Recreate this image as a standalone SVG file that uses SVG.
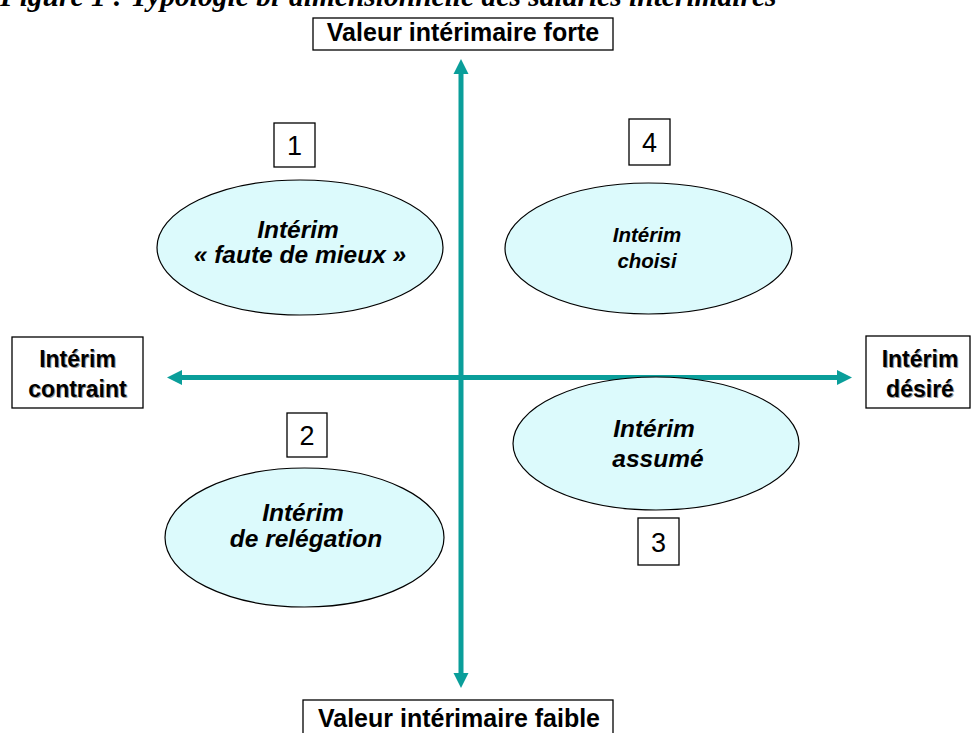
<svg xmlns="http://www.w3.org/2000/svg" width="971" height="733" viewBox="0 0 971 733">
<defs>
<style>
.box{fill:#ffffff;stroke:#000000;stroke-width:1.3}
.ell{fill:#dcfafc;stroke:#000000;stroke-width:1.2}
.ax{stroke:#0a9e9a;stroke-width:5;fill:none}
.head{fill:#0a9e9a}
.bl{font-family:"Liberation Sans",Arial,sans-serif;font-weight:bold;font-size:24px;fill:#000;text-anchor:middle}
.sh{font-family:"Liberation Sans",Arial,sans-serif;font-weight:bold;font-size:23px;fill:#9a9a9a;text-anchor:middle}
.it{font-family:"Liberation Sans",Arial,sans-serif;font-weight:bold;font-style:italic;font-size:24.5px;fill:#000;text-anchor:middle}
.num{font-family:"Liberation Sans",Arial,sans-serif;font-size:27px;fill:#000;text-anchor:middle}
.title{font-family:"Liberation Serif","Times New Roman",serif;font-weight:bold;font-style:italic;font-size:29.5px;fill:#000}
</style>
</defs>
<text class="title" x="0" y="6">Figure 1 : Typologie bi-dimensionnelle des salariés intérimaires</text>
<g id="connectors">
<line class="ax" x1="461" y1="72" x2="461" y2="675"/>
<polygon class="head" points="461,59 453.5,74 468.5,74"/>
<polygon class="head" points="461,688 453.5,673 468.5,673"/>
<line class="ax" x1="180" y1="377.5" x2="840" y2="377.5"/>
<polygon class="head" points="167,377.5 182,370 182,385"/>
<polygon class="head" points="852,377.5 837,370 837,385"/>
</g>
<g id="top-label">
<rect class="box" x="313" y="18" width="300" height="32"/>
<text class="bl" x="463" y="41" style="font-size:25px">Valeur intérimaire forte</text>
</g>
<g id="bottom-label">
<rect class="box" x="303" y="700" width="310" height="40"/>
<text class="bl" x="459" y="727" style="font-size:25px">Valeur intérimaire faible</text>
</g>
<g id="left-label">
<rect class="box" x="12" y="337" width="131" height="71"/>
<text class="sh" x="78.5" y="367.5">Intérim</text>
<text class="sh" x="78.5" y="397.5">contraint</text>
<text class="bl" x="77.5" y="366.5" style="font-size:23px">Intérim</text>
<text class="bl" x="77.5" y="396.5" style="font-size:23px">contraint</text>
</g>
<g id="right-label">
<rect class="box" x="866" y="336" width="104" height="72"/>
<text class="sh" x="921" y="367.5">Intérim</text>
<text class="sh" x="921" y="397.5">désiré</text>
<text class="bl" x="920" y="366.5" style="font-size:23px">Intérim</text>
<text class="bl" x="920" y="396.5" style="font-size:23px">désiré</text>
</g>
<g id="q1">
<rect class="box" x="274" y="123" width="41" height="44"/>
<text class="num" x="294.5" y="155">1</text>
<ellipse class="ell" cx="300" cy="247.5" rx="143" ry="67.5"/>
<text class="it" x="298" y="238">Intérim</text>
<text class="it" x="300" y="263">« faute de mieux »</text>
</g>
<g id="q4">
<rect class="box" x="629" y="119" width="41" height="46"/>
<text class="num" x="649.5" y="152">4</text>
<ellipse class="ell" cx="648.5" cy="248.5" rx="143.5" ry="65.5"/>
<text class="it" x="647" y="242" style="font-size:20.5px">Intérim</text>
<text class="it" x="647" y="268" style="font-size:20.5px">choisi</text>
</g>
<g id="q2">
<rect class="box" x="287" y="413" width="40" height="44"/>
<text class="num" x="307" y="445">2</text>
<ellipse class="ell" cx="304.5" cy="537.5" rx="139.5" ry="69.5"/>
<text class="it" x="303" y="521">Intérim</text>
<text class="it" x="306" y="547">de relégation</text>
</g>
<g id="q3">
<ellipse class="ell" cx="656" cy="443.5" rx="143" ry="66.5"/>
<text class="it" x="654" y="437">Intérim</text>
<text class="it" x="658" y="467">assumé</text>
<rect class="box" x="638" y="518" width="41" height="47"/>
<text class="num" x="658.5" y="552">3</text>
</g>
</svg>
